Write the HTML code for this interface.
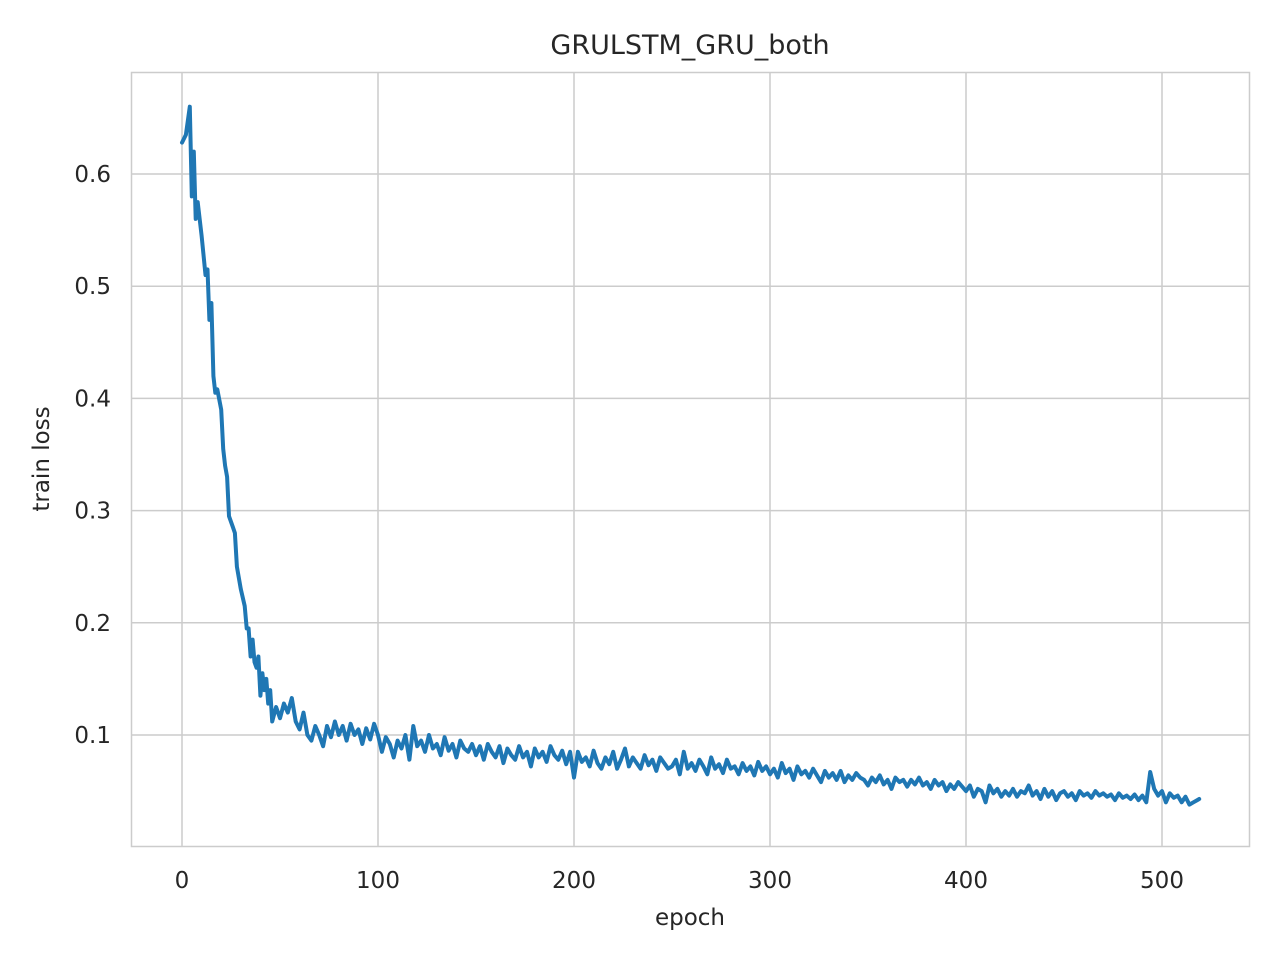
<!DOCTYPE html>
<html><head><meta charset="utf-8">
<style>
body{margin:0;background:#fff;}
svg{display:block;font-family:"DejaVu Sans","Liberation Sans",sans-serif;}
</style></head>
<body>
<svg id="chart" width="1280" height="960">
<rect x="0" y="0" width="1280" height="960" fill="#fff"/>
<g id="grid"></g>
<rect x="131.5" y="72.5" width="1118" height="774" fill="none" stroke="#cccccc" stroke-width="1.5"/>
<g id="xticks"></g>
<g id="yticks"></g>
<path id="line" fill="none" stroke="#1f77b4" stroke-width="4" stroke-linejoin="round" stroke-linecap="round"/>
<text x="690" y="54" text-anchor="middle" font-size="27" fill="#262626">GRULSTM_GRU_both</text>
<text x="690" y="925" text-anchor="middle" font-size="23" fill="#262626">epoch</text>
<text transform="translate(49,459) rotate(-90)" text-anchor="middle" font-size="23" fill="#262626">train loss</text>
</svg>
<script>
const xTicks=[0,100,200,300,400,500];
const yTicks=[0.1,0.2,0.3,0.4,0.5,0.6];
const yTickLabels=["0.1","0.2","0.3","0.4","0.5","0.6"];
const earlyEpochs=[0,2,4,5,6,7,8,10,12,13,14,15,16,17,18,20,21,22,23,24,26,27,28,30,32,33,34,35,36,37,38,39,40,41,42,43,44,45,46,48,50,52,54,56,58];
const earlyLoss=[.628,.635,.66,.58,.62,.56,.575,.545,.51,.515,.47,.485,.42,.405,.408,.39,.355,.34,.33,.295,.285,.28,.25,.23,.215,.195,.195,.17,.185,.165,.16,.17,.135,.155,.14,.15,.128,.14,.112,.125,.115,.128,.12,.133,.112];
const lateLoss=[.105,.12,.1,.095,.108,.1,.09,.108,.098,.112,.1,.108,.095,.11,.1,.105,.092,.106,.096,.11,
.1,.085,.098,.092,.08,.095,.088,.1,.078,.108,.09,.095,.085,.1,.088,.092,.082,.098,.086,.092,.08,.095,.088,.085,.092,
.082,.09,.078,.092,.085,.08,.09,.075,.088,.082,.078,.09,.08,.085,.072,.088,.08,.085,.076,.09,.082,.078,.086,.074,.085,
.062,.085,.076,.08,.072,.086,.075,.07,.08,.074,.085,.07,.078,.088,.072,.08,.075,.07,.082,.073,.078,.068,.08,.075,.07,
.072,.078,.065,.085,.07,.075,.068,.078,.072,.065,.08,.07,.074,.066,.078,.07,.072,.065,.075,.068,.072,.064,.076,.068,.072,
.065,.07,.062,.075,.066,.07,.06,.072,.065,.068,.062,.07,.064,.058,.068,.062,.066,.06,.068,.058,.064,.06,.066,.062,.06,
.055,.062,.058,.064,.056,.06,.052,.062,.058,.06,.054,.06,.056,.062,.055,.058,.052,.06,.055,.058,.05,.056,.052,.058,.054,
.05,.055,.045,.052,.05,.04,.055,.048,.052,.045,.05,.046,.052,.045,.05,.048,.055,.046,.05,.043,.052,.045,.05,.042,.048,
.05,.045,.048,.042,.05,.046,.048,.044,.05,.046,.048,.045,.047,.042,.048,.044,.046,.043,.047,.042,.046,.04,.067,
.052,.046,.05,.04,.048,.044,.046,.04,.045,.038,.04,.042,.043];
const lateStart=60, lateStep=2;

const X=v=>182+v*1.96;
const Y=v=>847.2-v*1122;
const NS="http://www.w3.org/2000/svg";
const grid=document.getElementById('grid'),xg=document.getElementById('xticks'),yg=document.getElementById('yticks');
xTicks.forEach(t=>{
  const l=document.createElementNS(NS,'line');
  l.setAttribute('x1',X(t));l.setAttribute('x2',X(t));l.setAttribute('y1',72);l.setAttribute('y2',846);
  l.setAttribute('stroke','#cccccc');l.setAttribute('stroke-width','1.5');
  
  
  grid.appendChild(l);
  const tx=document.createElementNS(NS,'text');
  tx.setAttribute('x',X(t));tx.setAttribute('y',888);tx.setAttribute('text-anchor','middle');
  tx.setAttribute('font-size','23');tx.setAttribute('fill','#262626');tx.textContent=t;
  
  
  xg.appendChild(tx);
});
yTicks.forEach((t,i)=>{
  const l=document.createElementNS(NS,'line');
  l.setAttribute('x1',131);l.setAttribute('x2',1249);l.setAttribute('y1',Y(t));l.setAttribute('y2',Y(t));
  l.setAttribute('stroke','#cccccc');l.setAttribute('stroke-width','1.5');
  
  
  grid.appendChild(l);
  const tx=document.createElementNS(NS,'text');
  tx.setAttribute('x',111);tx.setAttribute('y',Y(t)+8);tx.setAttribute('text-anchor','end');
  tx.setAttribute('font-size','23');tx.setAttribute('fill','#262626');tx.textContent=yTickLabels[i];
  
  
  yg.appendChild(tx);
});
const pts=[];
earlyEpochs.forEach((e,i)=>pts.push([e,earlyLoss[i]]));
lateLoss.forEach((v,i)=>{let e=lateStart+i*lateStep;if(i===lateLoss.length-1)e=519;pts.push([e,v]);});
document.getElementById('line').setAttribute('d',pts.map((p,i)=>(i?'L':'M')+X(p[0]).toFixed(1)+','+Y(p[1]).toFixed(1)).join(''));
</script>
</body></html>
